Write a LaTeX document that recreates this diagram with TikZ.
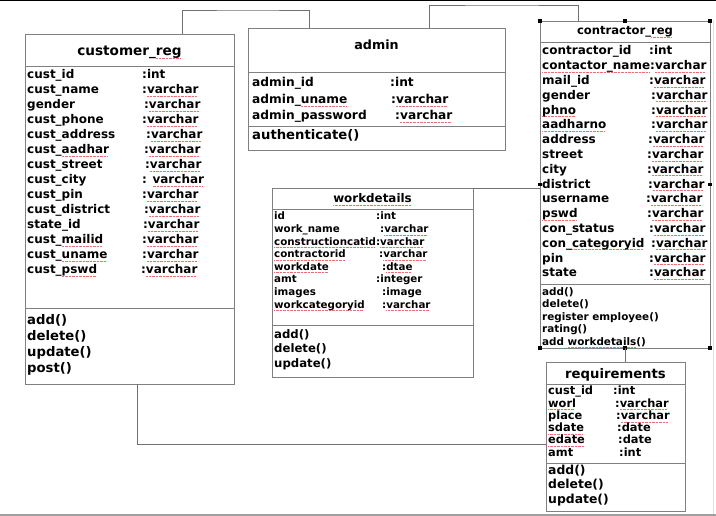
\documentclass[tikz,border=0pt]{standalone}
\usepackage{fontspec}
\setmainfont{DejaVu Sans}
\usepackage{tikz}
\usetikzlibrary{positioning,calc}
\usepackage{xcolor}
\definecolor{boxgray}{RGB}{128,128,128}
\definecolor{linkgray}{RGB}{112,112,112}
\definecolor{squig}{RGB}{238,110,110}
% spell-check style red underline
\newsavebox\rmbox
\newcommand\redmark[1]{\sbox\rmbox{#1}\rlap{\raisebox{-2.6pt}[0pt][0pt]{\color{squig}\leaders\hbox to 1.4pt{\rule{0.8pt}{0.5pt}\hss}\hskip\wd\rmbox}}\usebox\rmbox}

\begin{document}
\begin{tikzpicture}[x=1pt,y=-1pt,
  classbox/.style={draw=boxgray,line width=0.9pt,fill=white,anchor=north west,inner sep=0pt,outer sep=0pt},
  sep/.style={draw=boxgray,line width=0.9pt},
  link/.style={draw=linkgray,line width=0.9pt},
  txt/.style={anchor=base west,inner sep=0pt,font=\bfseries\fontsize{#1}{#1}\selectfont},
  title/.style={anchor=base,inner sep=0pt,font=\bfseries\fontsize{#1}{#1}\selectfont}]
\useasboundingbox (0,0) rectangle (716,516);
% Screen edges
\draw[black,line width=1.2pt] (0,0.6) -- (716,0.6);
\draw[gray!25,line width=1pt] (713,20) -- (713,514);
\draw[gray!75,line width=1.6pt] (0,515) -- (716,515);

% customer_reg
\node[classbox,minimum width=209pt,minimum height=350pt] (cust) at (25,34) {};
\draw[sep] (cust.west |- 0,66) -- (cust.east |- 0,66);
\draw[sep] (cust.west |- 0,308) -- (cust.east |- 0,308);
\node[title=13.6] (cust-t) at (129.5,56) {customer\_\redmark{reg}};
\foreach \nm/\ty/\tx [count=\i from 0] in {cust\_id/:int/142,cust\_name/:\redmark{varchar}/142,
  gender/:\redmark{varchar}/144,cust\_phone/:\redmark{varchar}/142,cust\_address/:\redmark{varchar}/146,
  cust\_\redmark{aadhar}/:\redmark{varchar}/144,cust\_street/:\redmark{varchar}/145,
  cust\_city/: \redmark{varchar}/142,cust\_pin/:\redmark{varchar}/142,cust\_district/:\redmark{varchar}/144,
  state\_id/:\redmark{varchar}/143,cust\_\redmark{mailid}/:\redmark{varchar}/142,
  cust\_\redmark{uname}/:\redmark{varchar}/142,cust\_\redmark{pswd}/:\redmark{varchar}/141}{
  \node[txt=12] (cust-a\i) at (27,{79+15*\i}) {\nm};
  \node[txt=12] (cust-b\i) at (\tx,{79+15*\i}) {\ty};
}
\foreach \op [count=\i from 0] in {add(),delete(),update(),post()}
  \node[txt=13.2] (cust-m\i) at (27,{324+16.3*\i}) {\op};

% admin
\node[classbox,minimum width=257pt,minimum height=122pt] (admin) at (248,28) {};
\draw[sep] (admin.west |- 0,72) -- (admin.east |- 0,72);
\draw[sep] (admin.west |- 0,126) -- (admin.east |- 0,126);
\node[title=12.7] (admin-t) at (376.5,50) {admin};
\foreach \nm/\ty/\tx [count=\i from 0] in {admin\_id/:int/390,admin\_\redmark{uname}/:\redmark{varchar}/391,
  admin\_password/:\redmark{varchar}/395}{
  \node[txt=12.2] (admin-a\i) at (252,{87+16.5*\i}) {\nm};
  \node[txt=12.2] (admin-b\i) at (\tx,{87+16.5*\i}) {\ty};
}
\node[txt=13.2] (admin-m0) at (252,140) {authenticate()};

% contractor_reg
\node[classbox,minimum width=170pt,minimum height=327pt] (contr) at (540,21) {};
\draw[sep] (contr.west |- 0,42) -- (contr.east |- 0,42);
\draw[sep] (contr.west |- 0,284) -- (contr.east |- 0,284);
\node[title=11.6] (contr-t) at (625,35) {contractor\_\redmark{reg}};
\foreach \nm/\ty/\tx [count=\i from 0] in {contractor\_id/:int/649,
  \redmark{contactor\_name}:\redmark{varchar}//649,mail\_id/:\redmark{varchar}/649,
  gender/:\redmark{varchar}/651,\redmark{phno}/:\redmark{varchar}/651,\redmark{aadharno}/:\redmark{varchar}/651,
  address/:\redmark{varchar}/648,street/:\redmark{varchar}/647,city/:\redmark{varchar}/647,
  district/:\redmark{varchar}/648,username/:\redmark{varchar}/646,\redmark{pswd}/:\redmark{varchar}/647,
  con\_status/:\redmark{varchar}/649,con\_\redmark{categoryid}/:\redmark{varchar}/651,
  pin/:\redmark{varchar}/649,state/:\redmark{varchar}/649}{
  \node[txt=12] (contr-a\i) at (542,{55+14.8*\i}) {\nm};
  \node[txt=12] (contr-b\i) at (\tx,{55+14.8*\i}) {\ty};
}
\foreach \op [count=\i from 0] in {add(),delete(),register employee(),rating(),add \redmark{workdetails}()}
  \node[txt=10.4] (contr-m\i) at (542,{295+12.5*\i}) {\op};
% selection handles
\foreach \a in {north west,north,north east,west,east,south west,south,south east}
  \fill (contr.\a) ++(-1.6,-1.6) rectangle ++(3.2,3.2);

% workdetails
\node[classbox,minimum width=201pt,minimum height=189pt] (wd) at (272,188) {};
\draw[sep] (wd.west |- 0,209) -- (wd.east |- 0,209);
\draw[sep] (wd.west |- 0,325) -- (wd.east |- 0,325);
\node[title=11.9] (wd-t) at (372.5,203) {\redmark{workdetails}};
\foreach \nm/\ty/\tx [count=\i from 0] in {id/:int/376,work\_name/:\redmark{varchar}/380,
  \redmark{constructioncatid}:\redmark{varchar}//376,\redmark{contractorid}/:\redmark{varchar}/379,
  \redmark{workdate}/:\redmark{dtae}/382,amt/:integer/376,images/:image/382,
  \redmark{workcategoryid}/:\redmark{varchar}/382}{
  \node[txt=10.3] (wd-a\i) at (274,{220+12.6*\i}) {\nm};
  \node[txt=10.3] (wd-b\i) at (\tx,{220+12.6*\i}) {\ty};
}
\foreach \op [count=\i from 0] in {add(),delete(),update()}
  \node[txt=11.7] (wd-m\i) at (274,{338+14.5*\i}) {\op};

% requirements
\node[classbox,minimum width=139pt,minimum height=149pt] (req) at (546,362) {};
\draw[sep] (req.west |- 0,384) -- (req.east |- 0,384);
\draw[sep] (req.west |- 0,463) -- (req.east |- 0,463);
\node[title=13.2] (req-t) at (615.5,378) {requirements};
\foreach \nm/\ty/\tx [count=\i from 0] in {cust\_id/:int/613,\redmark{worl}/:\redmark{varchar}/615,
  place/:\redmark{varchar}/616,\redmark{sdate}/:date/617,\redmark{edate}/:date/618,amt/:int/619}{
  \node[txt=11.4] (req-a\i) at (548,{395+12.2*\i}) {\nm};
  \node[txt=11.4] (req-b\i) at (\tx,{395+12.2*\i}) {\ty};
}
\foreach \op [count=\i from 0] in {add(),delete(),update()}
  \node[txt=12.4] (req-m\i) at (548,{474+14.5*\i}) {\op};

% Links
\coordinate (j1) at (250,10);
\coordinate (j2) at (500,5);
\draw[link] ([xshift=157pt]cust.north west) |- (j1) -| ([xshift=61pt]admin.north west);
\draw[link] ([xshift=181pt]admin.north west) |- (j2) -| ([xshift=38pt]contr.north west);
\draw[link] (wd.north east) -- (wd.north east -| contr.west);
\draw[link] (contr.south) -- (contr.south |- req.north);
\draw[link] ([xshift=112pt]cust.south west) |- ([yshift=-7.5pt]req.west);
\end{tikzpicture}
\end{document}
